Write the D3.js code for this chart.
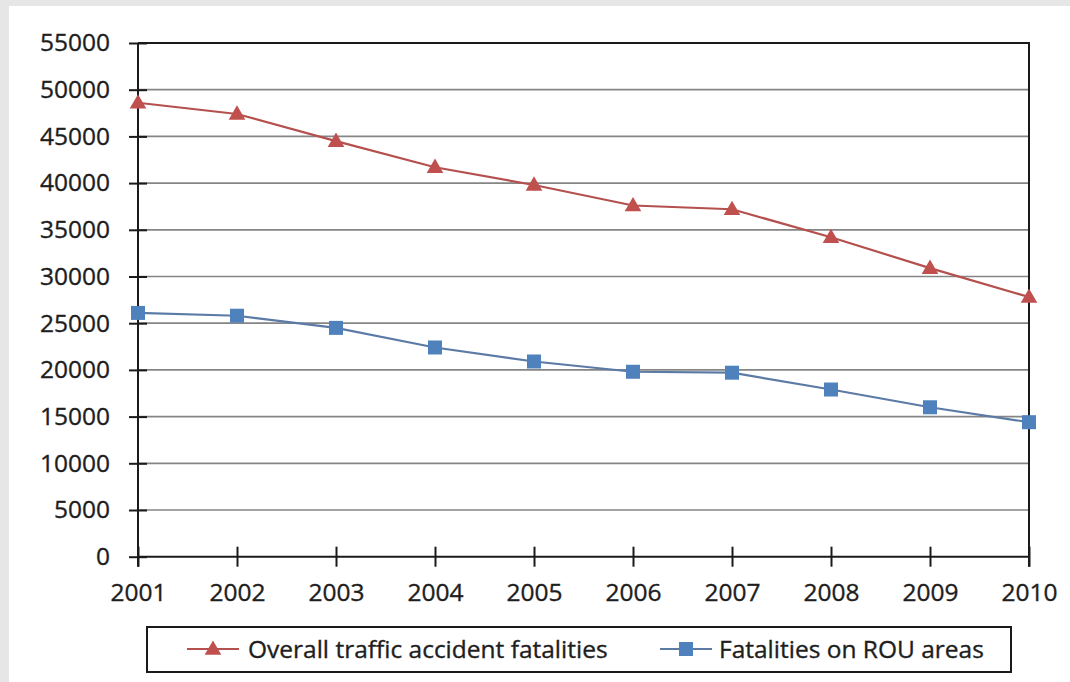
<!DOCTYPE html>
<html>
<head>
<meta charset="utf-8">
<script src="https://cdn.jsdelivr.net/npm/d3@7"></script>
<style>
  html, body { margin: 0; padding: 0; background: #e6e6e6; }
  svg { display: block; }
  text { font-family: "Open Sans", "DejaVu Sans", sans-serif; fill: #1e1e1e; stroke: #1e1e1e; stroke-width: 0.35px; }
</style>
</head>
<body>
<svg id="chart" width="1070" height="682"></svg>
<script>
// Years on the x axis
const years = [2001, 2002, 2003, 2004, 2005, 2006, 2007, 2008, 2009, 2010];
// Overall traffic accident fatalities per year
const overallFatalities = [48600, 47400, 44500, 41700, 39800, 37600, 37200, 34200, 30900, 27800];
// Fatalities on ROU areas per year
const rouFatalities = [26100, 25800, 24500, 22400, 20900, 19800, 19700, 17900, 16000, 14400];
// Value axis ticks
const yTicks = [0, 5000, 10000, 15000, 20000, 25000, 30000, 35000, 40000, 45000, 50000, 55000];
// Legend labels
const seriesNames = ["Overall traffic accident fatalities", "Fatalities on ROU areas"];

const svg = d3.select("#chart");
const W = 1070, H = 682;

// white chart canvas inside the grey page frame
svg.append("rect").attr("x", 9).attr("y", 6).attr("width", W - 9).attr("height", H - 6).attr("fill", "#ffffff");

const plot = { left: 138, right: 1029, top: 43, bottom: 556.7 };

const x = d3.scalePoint().domain(years).range([plot.left, plot.right]);
const y = d3.scaleLinear().domain([0, 55000]).range([plot.bottom, plot.top]);

const fontSize = 24.5;

// horizontal gridlines
svg.append("g")
  .selectAll("line")
  .data(yTicks.filter(t => t > 0 && t < 55000))
  .join("line")
  .attr("x1", plot.left).attr("x2", plot.right)
  .attr("y1", d => y(d)).attr("y2", d => y(d))
  .attr("stroke", "#858585").attr("stroke-width", 1.7);

// plot frame: top and right edges
svg.append("path")
  .attr("d", `M${plot.left},${plot.top}H${plot.right}V${plot.bottom + 10}`)
  .attr("fill", "none").attr("stroke", "#1a1a1a").attr("stroke-width", 2);

// y axis with ticks crossing the axis line
const yAxis = svg.append("g")
  .attr("transform", `translate(${plot.left},0)`)
  .call(d3.axisLeft(y).tickValues(yTicks).tickSize(9).tickPadding(19).tickSizeOuter(0).tickFormat(d3.format("d")));
yAxis.select(".domain").attr("stroke", "#1a1a1a").attr("stroke-width", 2)
  .attr("d", `M0,${plot.top}V${plot.bottom + 10}`);
yAxis.selectAll(".tick line").attr("x1", -9).attr("x2", 9).attr("stroke", "#1a1a1a").attr("stroke-width", 2);
yAxis.selectAll(".tick text").attr("font-size", fontSize).attr("fill", "#1e1e1e").style("font-family", '"Open Sans", sans-serif');

// x axis
const xAxis = svg.append("g")
  .attr("transform", `translate(0,${plot.bottom})`)
  .call(d3.axisBottom(x).tickSize(10).tickPadding(17).tickSizeOuter(0));
xAxis.select(".domain").attr("stroke", "#1a1a1a").attr("stroke-width", 2)
  .attr("d", `M${plot.left},0H${plot.right}`);
xAxis.selectAll(".tick line").attr("y1", -10).attr("y2", 10).attr("stroke", "#1a1a1a").attr("stroke-width", 2);
xAxis.selectAll(".tick text").attr("font-size", fontSize).attr("fill", "#1e1e1e").style("font-family", '"Open Sans", sans-serif');

const series = [
  { name: seriesNames[0], values: overallFatalities, color: "#c0504d", line: "#b4504e", symbol: d3.symbolTriangle, size: 120 },
  { name: seriesNames[1], values: rouFatalities, color: "#4f81bd", line: "#5b7aa6", symbol: d3.symbolSquare, size: 196 }
];

const lineGen = d3.line().x(d => x(d.year)).y(d => y(d.value));

series.forEach(s => {
  const pts = years.map((yr, i) => ({ year: yr, value: s.values[i] }));
  svg.append("path")
    .datum(pts)
    .attr("d", lineGen)
    .attr("fill", "none")
    .attr("stroke", s.line)
    .attr("stroke-width", 2.2);
  svg.append("g")
    .selectAll("path")
    .data(pts)
    .join("path")
    .attr("d", d3.symbol().type(s.symbol).size(s.size))
    .attr("transform", d => `translate(${x(d.year)},${y(d.value) + (s.symbol === d3.symbolTriangle ? 1 : 0)})`)
    .attr("fill", s.color);
});

// legend
const legend = svg.append("g");
legend.append("rect")
  .attr("x", 147).attr("y", 627).attr("width", 864).attr("height", 45)
  .attr("fill", "#ffffff").attr("stroke", "#1a1a1a").attr("stroke-width", 2);

const legendItems = [
  { s: series[0], x0: 187, tx: 248 },
  { s: series[1], x0: 660, tx: 719 }
];
legendItems.forEach(it => {
  legend.append("line")
    .attr("x1", it.x0).attr("x2", it.x0 + 52)
    .attr("y1", 649).attr("y2", 649)
    .attr("stroke", it.s.line).attr("stroke-width", 2.2);
  legend.append("path")
    .attr("d", d3.symbol().type(it.s.symbol).size(it.s.size)())
    .attr("transform", `translate(${it.x0 + 26},${649 + (it.s.symbol === d3.symbolTriangle ? 1 : 0)})`)
    .attr("fill", it.s.color);
  legend.append("text")
    .attr("x", it.tx).attr("y", 649).attr("dy", "0.35em")
    .attr("font-size", fontSize)
    .text(it.s.name);
});
</script>
</body>
</html>
